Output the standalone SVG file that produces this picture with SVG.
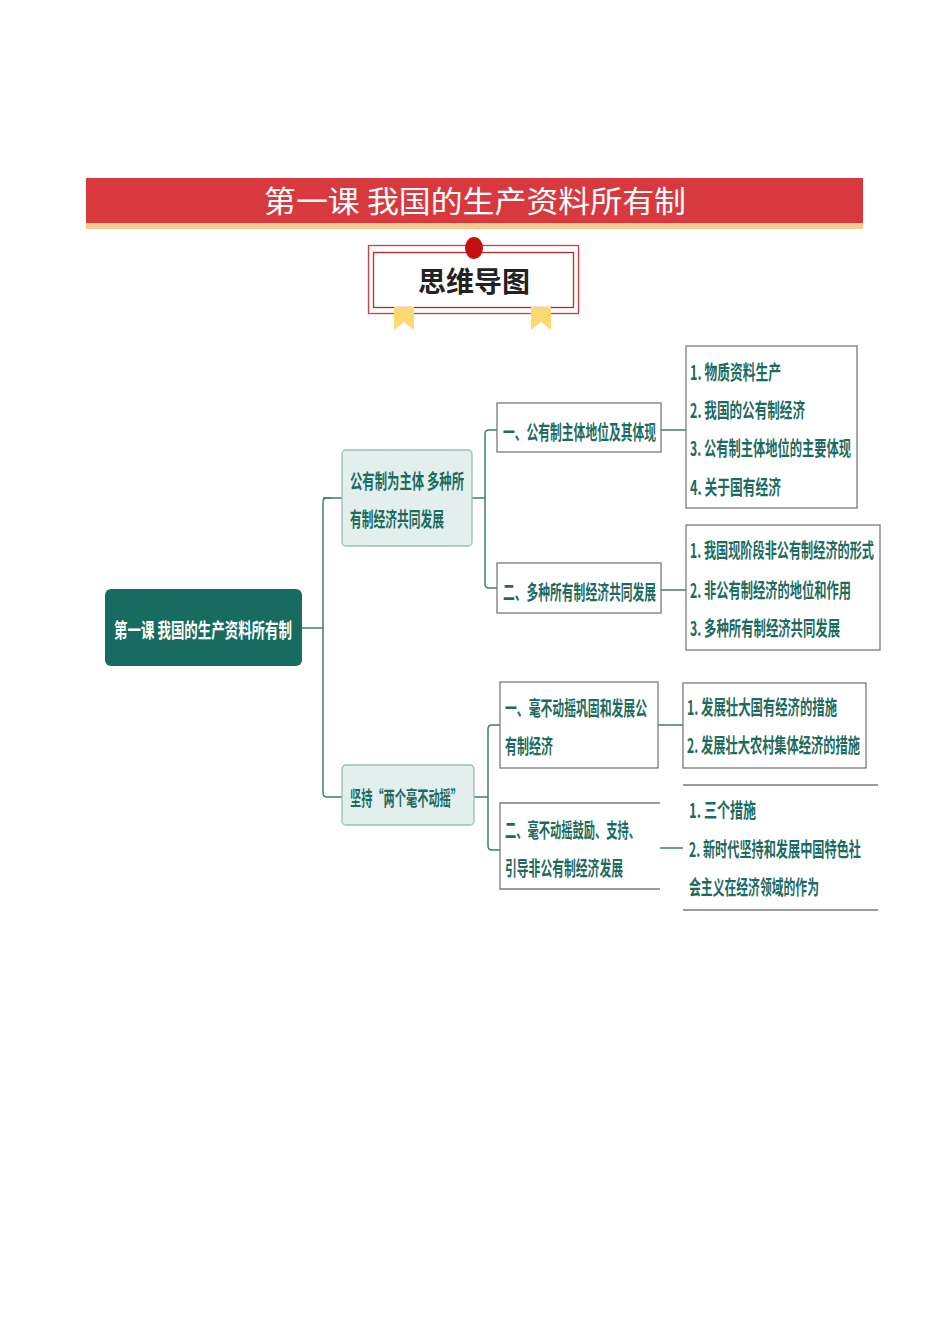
<svg xmlns="http://www.w3.org/2000/svg" width="950" height="1344" viewBox="0 0 950 1344">
<style>
.t{font-family:"Noto Sans CJK SC","Liberation Sans",sans-serif;font-weight:bold;fill:#1d6b5e;font-size:20px}
.box{fill:#fff;stroke:#7a7a7a;stroke-width:1.3}
.l1{fill:#e2efed;stroke:#9bbdb6;stroke-width:1.3}
.c{fill:none;stroke:#3f7d72;stroke-width:1.5}
</style>
<rect width="950" height="1344" fill="#fff"/>
<g id="header">
<rect x="86" y="178" width="777" height="45" fill="#d8393f"/>
<rect x="86" y="223" width="777" height="6" fill="#f5cb94"/>
<text x="475" y="212" text-anchor="middle" font-family="Noto Sans CJK SC,sans-serif" font-size="30" fill="#fff" textLength="422" lengthAdjust="spacingAndGlyphs">第一课 我国的生产资料所有制</text>
</g>
<g id="badge">
<rect x="368.5" y="245.5" width="210" height="68" fill="#fff" stroke="#d8393f" stroke-width="1.3"/>
<rect x="373.5" y="252.5" width="200" height="55" fill="none" stroke="#c0262d" stroke-width="1.3"/>
<path d="M394 307h20v23l-10-8l-10 8z" fill="#fdd76f"/>
<path d="M531 307h20v23l-10-8l-10 8z" fill="#fdd76f"/>
<ellipse cx="474" cy="248" rx="9" ry="11" fill="#c40f12"/>
<text x="474" y="292" text-anchor="middle" font-family="Noto Sans CJK SC,sans-serif" font-weight="bold" font-size="28" fill="#222">思维导图</text>
</g>
<g id="connectors">
<path class="c" d="M302 628h21M331 498h-4q-4 0-4 4v291q0 4 4 4h15"/>
<path class="c" d="M323 498h19"/>
<path class="c" d="M472 498h13M497 430h-8q-4 0-4 4v150q0 4 4 4h8"/>
<path class="c" d="M474 797h14M500 725h-8q-4 0-4 4v117q0 4 4 4h8"/>
<path class="c" d="M661 430h25M661 590h25M658 725h25M659 848h24"/>
</g>
<g id="root">
<rect x="105" y="589" width="197" height="77" rx="6" fill="#176b5f"/>
<text class="t" x="114" y="638" style="fill:#fff" textLength="178" lengthAdjust="spacingAndGlyphs">第一课  我国的生产资料所有制</text>
</g>
<g id="n1">
<rect class="l1" x="342" y="450" width="130" height="96" rx="4"/>
<text class="t" x="350" y="489" textLength="114" lengthAdjust="spacingAndGlyphs">公有制为主体 多种所</text>
<text class="t" x="350" y="527" textLength="94" lengthAdjust="spacingAndGlyphs">有制经济共同发展</text>
</g>
<g id="n2">
<rect class="l1" x="342" y="765" width="132" height="60" rx="4"/>
<text class="t" x="350" y="806" textLength="112" lengthAdjust="spacingAndGlyphs">坚持“两个毫不动摇”</text>
</g>
<g id="n1a">
<rect class="box" x="497" y="403" width="164" height="49"/>
<text class="t" x="503" y="440" textLength="153" lengthAdjust="spacingAndGlyphs">一、公有制主体地位及其体现</text>
</g>
<g id="n1b">
<rect class="box" x="497" y="563" width="164" height="50"/>
<text class="t" x="503" y="600" textLength="153" lengthAdjust="spacingAndGlyphs">二、多种所有制经济共同发展</text>
</g>
<g id="n1a1">
<rect class="box" x="686" y="346" width="171" height="162"/>
<text class="t" x="690" y="380" textLength="91" lengthAdjust="spacingAndGlyphs">1. 物质资料生产</text>
<text class="t" x="690" y="418" textLength="115" lengthAdjust="spacingAndGlyphs">2. 我国的公有制经济</text>
<text class="t" x="690" y="456" textLength="161" lengthAdjust="spacingAndGlyphs">3. 公有制主体地位的主要体现</text>
<text class="t" x="690" y="495" textLength="91" lengthAdjust="spacingAndGlyphs">4. 关于国有经济</text>
</g>
<g id="n1b1">
<rect class="box" x="686" y="525" width="194" height="125"/>
<text class="t" x="690" y="558" textLength="184" lengthAdjust="spacingAndGlyphs">1. 我国现阶段非公有制经济的形式</text>
<text class="t" x="690" y="598" textLength="161" lengthAdjust="spacingAndGlyphs">2. 非公有制经济的地位和作用</text>
<text class="t" x="690" y="636" textLength="150" lengthAdjust="spacingAndGlyphs">3. 多种所有制经济共同发展</text>
</g>
<g id="n2a">
<rect class="box" x="500" y="682" width="158" height="86"/>
<text class="t" x="505" y="716" textLength="142" lengthAdjust="spacingAndGlyphs">一、毫不动摇巩固和发展公</text>
<text class="t" x="505" y="754" textLength="48" lengthAdjust="spacingAndGlyphs">有制经济</text>
</g>
<g id="n2b">
<path class="box" d="M660 803H500V889H660"/>
<text class="t" x="505" y="838" textLength="135" lengthAdjust="spacingAndGlyphs">二、毫不动摇鼓励、支持、</text>
<text class="t" x="505" y="876" textLength="118" lengthAdjust="spacingAndGlyphs">引导非公有制经济发展</text>
</g>
<g id="n2a1">
<rect class="box" x="683" y="683" width="183" height="85"/>
<text class="t" x="687" y="715" textLength="150" lengthAdjust="spacingAndGlyphs">1. 发展壮大国有经济的措施</text>
<text class="t" x="687" y="753" textLength="173" lengthAdjust="spacingAndGlyphs">2. 发展壮大农村集体经济的措施</text>
</g>
<g id="n2b1">
<path class="box" d="M683 785H878M683 910H878" style="fill:none"/>
<text class="t" x="689" y="818" textLength="67" lengthAdjust="spacingAndGlyphs">1. 三个措施</text>
<text class="t" x="689" y="857" textLength="172" lengthAdjust="spacingAndGlyphs">2. 新时代坚持和发展中国特色社</text>
<text class="t" x="689" y="895" textLength="130" lengthAdjust="spacingAndGlyphs">会主义在经济领域的作为</text>
</g>
</svg>
